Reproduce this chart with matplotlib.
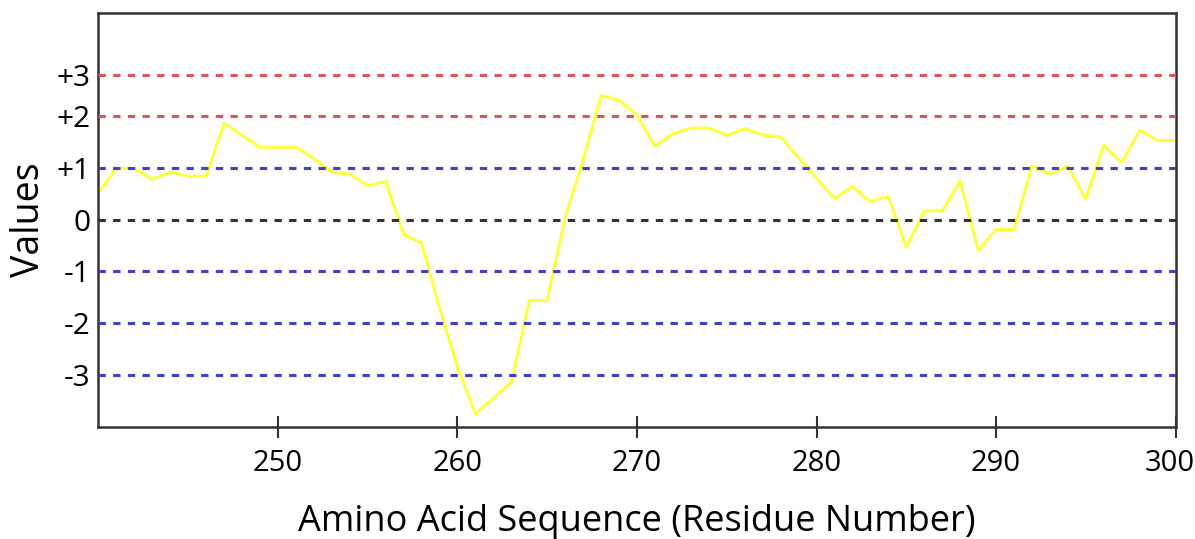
import matplotlib
matplotlib.use("Agg")
import matplotlib.pyplot as plt
import matplotlib.transforms as mtransforms

residues = list(range(240, 301))
values = [0.53, 0.99, 0.99, 0.78, 0.92, 0.84, 0.84, 1.87, 1.63, 1.40,
          1.40, 1.40, 1.18, 0.92, 0.88, 0.66, 0.74, -0.28, -0.45, -1.70,
          -2.85, -3.75, -3.45, -3.14, -1.56, -1.56, 0.05, 1.15, 2.40, 2.31,
          2.02, 1.42, 1.66, 1.77, 1.77, 1.63, 1.76, 1.64, 1.60, 1.20,
          0.80, 0.41, 0.64, 0.35, 0.45, -0.53, 0.17, 0.17, 0.75, -0.59,
          -0.19, -0.19, 1.04, 0.88, 1.03, 0.40, 1.44, 1.10, 1.73, 1.53,
          1.53]

ref_levels = [2.8, 2, 1, 0, -1, -2, -3]
ref_labels = ["+3", "+2", "+1", "0", "-1", "-2", "-3"]
ref_colors = ["#dd5555", "#dd5555", "#4040c8", "#333333", "#4040c8", "#4040c8", "#4040c8"]

x_ticks = [250, 260, 270, 280, 290, 300]

plt.rcParams['font.family'] = ['Open Sans', 'DejaVu Sans']

fig = plt.figure(figsize=(11.95, 5.39), dpi=100)
ax = fig.add_axes([0.0824, 0.2083, 0.9013, 0.7681])

ax.plot(residues, values, color="#ffff40", lw=2.2, zorder=2)
for lvl, c in zip(ref_levels, ref_colors):
    ax.axhline(lvl, color=c, lw=2.2, linestyle=(0, (2.4, 2.4)), zorder=3)

ax.set_xlim(240, 300)
ax.set_ylim(-4, 4)
ax.set_xticks(x_ticks)
ax.set_xticklabels([str(t) for t in x_ticks])
ax.set_yticks(ref_levels)
ax.set_yticklabels(ref_labels)

ax.tick_params(axis='x', direction='inout', length=16, width=1.5, color="#333333",
               labelsize=21, pad=8)
ax.tick_params(axis='y', length=0, labelsize=21.5, pad=6)

# nudge the last x tick label so it stays inside the figure
last = ax.get_xticklabels()[-1]
last.set_transform(last.get_transform() +
                   mtransforms.ScaledTranslation(-6 / 100, 0, fig.dpi_scale_trans))

for s in ax.spines.values():
    s.set_color("#333333")
    s.set_linewidth(1.8)

ax.set_xlabel("Amino Acid Sequence (Residue Number)", fontsize=26, labelpad=19)
ax.set_ylabel("Values", fontsize=27, labelpad=6)

fig.savefig("out.png", dpi=100)
